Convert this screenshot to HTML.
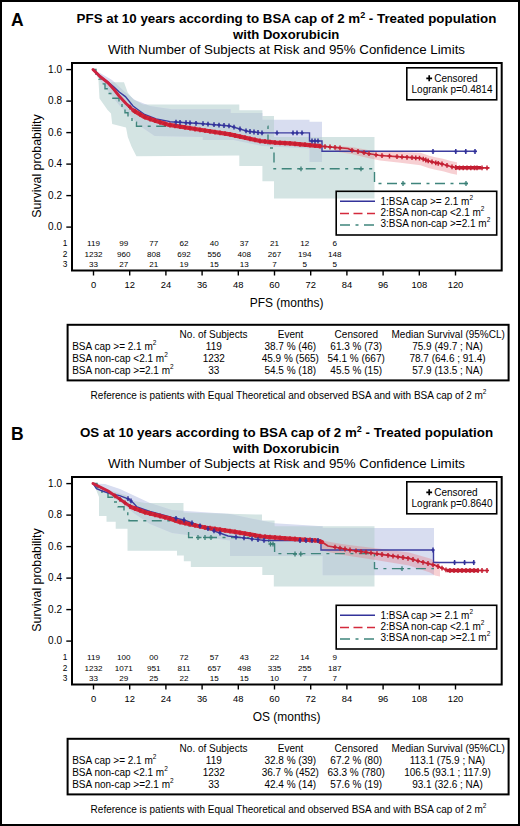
<!DOCTYPE html>
<html><head><meta charset="utf-8"><style>
html,body{margin:0;padding:0;background:#fff;}
body{width:520px;height:826px;overflow:hidden;position:relative;}
svg{position:absolute;left:0;top:0;font-family:"Liberation Sans", sans-serif;}
</style></head><body>
<svg width="520" height="826" viewBox="0 0 520 826">
<rect x="1" y="1" width="518" height="824" fill="#fff" stroke="#000" stroke-width="2"/>
<text x="11.00" y="26.20" font-size="17.5" text-anchor="start" font-weight="bold" fill="#000" >A</text>
<text x="286.5" y="23" font-size="13.35" font-weight="bold" text-anchor="middle">PFS at 10 years according to BSA cap of 2 m<tspan font-size="9" dy="-5">2</tspan><tspan dy="5"> - Treated population</tspan></text>
<text x="286.20" y="38.50" font-size="13.1" text-anchor="middle" font-weight="bold" fill="#000" >with Doxorubicin</text>
<text x="286.50" y="54.40" font-size="13.3" text-anchor="middle" font-weight="normal" fill="#000" >With Number of Subjects at Risk and 95% Confidence Limits</text>
<g clip-path="url(#clipA)">
<clipPath id="tbA"><polygon points="93.0,69.5 97.0,71.7 102.8,82.3 124.0,82.3 127.8,92.8 133.5,99.6 143.0,104.4 239.3,104.4 239.3,110.2 262.4,110.2 262.4,116.0 274.0,116.0 274.0,137.0 374.5,137.0 374.5,198.6 274.0,198.6 274.0,181.3 262.4,181.3 262.4,166.0 239.3,166.0 239.3,155.5 136.4,156.3 131.6,146.7 127.8,137.0 126.0,127.4 112.2,124.0 111.0,113.6 107.6,110.0 99.5,98.6 98.4,79.0 96.0,73.6 93.0,69.5"/></clipPath>
<polygon points="93.0,69.5 97.0,71.7 102.8,82.3 124.0,82.3 127.8,92.8 133.5,99.6 143.0,104.4 239.3,104.4 239.3,110.2 262.4,110.2 262.4,116.0 274.0,116.0 274.0,137.0 374.5,137.0 374.5,198.6 274.0,198.6 274.0,181.3 262.4,181.3 262.4,166.0 239.3,166.0 239.3,155.5 136.4,156.3 131.6,146.7 127.8,137.0 126.0,127.4 112.2,124.0 111.0,113.6 107.6,110.0 99.5,98.6 98.4,79.0 96.0,73.6 93.0,69.5" fill="#d4e4e3" />
<polygon points="93.0,69.5 100.0,73.0 112.0,80.0 125.0,92.0 135.0,100.0 150.0,106.0 172.0,109.2 230.7,109.2 230.7,113.0 262.4,113.0 262.4,119.8 309.5,119.8 309.5,121.7 322.0,121.7 322.0,162.0 309.5,162.0 309.5,148.6 262.0,146.0 233.5,140.0 202.8,140.0 202.8,137.0 154.7,136.1 140.0,126.0 130.0,116.0 120.0,106.0 110.0,94.0 100.0,80.0 93.0,69.5" fill="#d8ddf0" />
<polygon points="93.0,69.5 100.0,73.0 112.0,80.0 125.0,92.0 135.0,100.0 150.0,106.0 172.0,109.2 230.7,109.2 230.7,113.0 262.4,113.0 262.4,119.8 309.5,119.8 309.5,121.7 322.0,121.7 322.0,162.0 309.5,162.0 309.5,148.6 262.0,146.0 233.5,140.0 202.8,140.0 202.8,137.0 154.7,136.1 140.0,126.0 130.0,116.0 120.0,106.0 110.0,94.0 100.0,80.0 93.0,69.5" fill="#c4d4dc" clip-path="url(#tbA)" />
<polygon points="335.0,146.0 351.5,147.1 368.0,149.9 380.0,151.5 400.4,152.1 420.5,152.7 429.2,155.7 435.4,157.2 443.0,158.7 450.8,161.0 457.0,162.3 457.0,174.8 450.8,173.5 443.0,171.2 435.4,169.7 429.2,168.2 420.5,165.2 400.4,162.8 380.0,160.5 368.0,158.0 351.5,153.9 335.0,151.5" fill="#e8707a" fill-opacity="0.33" />
<clipPath id="tgA"><rect x="73" y="0" width="93" height="400"/><rect x="266" y="0" width="235" height="400"/></clipPath>
<polyline points="93.0,69.5 96.0,69.5 96.0,74.3 99.0,74.3 99.0,79.1 102.0,79.1 102.0,83.9 105.0,83.9 105.0,88.7 108.0,88.7 108.0,93.5 112.2,93.5 112.2,98.3 119.0,98.3 119.0,103.1 122.0,103.1 122.0,107.9 125.0,107.9 125.0,112.7 128.0,112.7 128.0,117.5 132.0,117.5 132.0,122.3 136.5,122.3 136.5,126.3 268.0,126.3 268.0,148.0 274.0,148.0 274.0,168.8 374.5,168.8 374.5,183.5 468.0,183.5 468.0,183.5" fill="none" stroke="#3f857c" stroke-width="1.4" stroke-dasharray="10,5.5,3,5.5" clip-path="url(#tgA)" />
<polyline points="93.0,69.5 102.0,77.5 108.0,82.0 114.0,87.0 119.2,92.0 125.4,96.6 133.0,106.0 137.0,109.0 144.6,114.5 156.1,119.0 167.7,121.1 170.0,121.7 200.0,123.5 230.0,126.0 247.3,131.2 261.0,132.9 309.5,132.9 309.5,141.0 322.0,141.0 322.0,151.3 477.0,151.3" fill="none" stroke="#3c3c9e" stroke-width="1.4" />
<polyline points="93.0,69.5 100.0,76.5 108.0,82.8 114.0,89.5 119.6,96.6 126.0,103.5 133.4,110.4 144.6,117.1 156.1,121.1 167.7,124.6 200.0,129.8 230.0,134.4 260.0,141.0 276.0,142.7 290.0,143.3 320.0,146.2 348.0,148.5 351.5,150.2 368.0,153.5 380.0,155.5 400.4,156.8 420.5,158.2 429.2,161.2 435.4,162.7 443.0,164.2 450.8,166.5 457.0,167.8 489.5,167.8" fill="none" stroke="#c52a3a" stroke-width="1.7" stroke-linejoin="round" />
<line x1="456" y1="167.8" x2="481" y2="167.8" stroke="#c0182e" stroke-width="3.6" />
<polyline points="133.4,110.4 144.6,117.1 156.1,121.1 167.7,124.6 200.0,129.8 230.0,134.4 260.0,141.0 276.0,142.7 290.0,143.3 320.0,146.2" fill="none" stroke="#d42236" stroke-width="4.2" stroke-linejoin="round" stroke-linecap="round" />
<polyline points="93.0,69.5 100.0,76.5 108.0,82.8 114.0,89.5 119.6,96.6 126.0,103.5 133.4,110.4" fill="none" stroke="#cc2240" stroke-width="3.0" stroke-linejoin="round" stroke-linecap="round" />
<path d="M128.0,107.2h4.0M130.0,104.8v4.8" stroke="#c41e32" stroke-width="1.5"/>
<path d="M133.0,111.4h4.0M135.0,109.0v4.8" stroke="#c41e32" stroke-width="1.5"/>
<path d="M138.0,114.3h4.0M140.0,111.9v4.8" stroke="#c41e32" stroke-width="1.5"/>
<path d="M143.0,117.2h4.0M145.0,114.8v4.8" stroke="#c41e32" stroke-width="1.5"/>
<path d="M148.0,119.0h4.0M150.0,116.6v4.8" stroke="#c41e32" stroke-width="1.5"/>
<path d="M153.0,120.7h4.0M155.0,118.3v4.8" stroke="#c41e32" stroke-width="1.5"/>
<path d="M158.0,122.3h4.0M160.0,119.9v4.8" stroke="#c41e32" stroke-width="1.5"/>
<path d="M163.0,123.8h4.0M165.0,121.4v4.8" stroke="#c41e32" stroke-width="1.5"/>
<path d="M168.0,125.0h4.0M170.0,122.6v4.8" stroke="#c41e32" stroke-width="1.5"/>
<path d="M173.0,125.8h4.0M175.0,123.4v4.8" stroke="#c41e32" stroke-width="1.5"/>
<path d="M178.0,126.6h4.0M180.0,124.2v4.8" stroke="#c41e32" stroke-width="1.5"/>
<path d="M183.0,127.4h4.0M185.0,125.0v4.8" stroke="#c41e32" stroke-width="1.5"/>
<path d="M188.0,128.2h4.0M190.0,125.8v4.8" stroke="#c41e32" stroke-width="1.5"/>
<path d="M193.0,129.0h4.0M195.0,126.6v4.8" stroke="#c41e32" stroke-width="1.5"/>
<path d="M198.0,129.8h4.0M200.0,127.4v4.8" stroke="#c41e32" stroke-width="1.5"/>
<path d="M203.0,130.6h4.0M205.0,128.2v4.8" stroke="#c41e32" stroke-width="1.5"/>
<path d="M208.0,131.3h4.0M210.0,128.9v4.8" stroke="#c41e32" stroke-width="1.5"/>
<path d="M213.0,132.1h4.0M215.0,129.7v4.8" stroke="#c41e32" stroke-width="1.5"/>
<path d="M218.0,132.9h4.0M220.0,130.5v4.8" stroke="#c41e32" stroke-width="1.5"/>
<path d="M223.0,133.6h4.0M225.0,131.2v4.8" stroke="#c41e32" stroke-width="1.5"/>
<path d="M228.0,134.4h4.0M230.0,132.0v4.8" stroke="#c41e32" stroke-width="1.5"/>
<path d="M233.0,135.5h4.0M235.0,133.1v4.8" stroke="#c41e32" stroke-width="1.5"/>
<path d="M238.0,136.6h4.0M240.0,134.2v4.8" stroke="#c41e32" stroke-width="1.5"/>
<path d="M243.0,137.7h4.0M245.0,135.3v4.8" stroke="#c41e32" stroke-width="1.5"/>
<path d="M248.0,138.8h4.0M250.0,136.4v4.8" stroke="#c41e32" stroke-width="1.5"/>
<path d="M253.0,139.9h4.0M255.0,137.5v4.8" stroke="#c41e32" stroke-width="1.5"/>
<path d="M258.0,141.0h4.0M260.0,138.6v4.8" stroke="#c41e32" stroke-width="1.5"/>
<path d="M263.0,141.5h4.0M265.0,139.1v4.8" stroke="#c41e32" stroke-width="1.5"/>
<path d="M268.0,142.1h4.0M270.0,139.7v4.8" stroke="#c41e32" stroke-width="1.5"/>
<path d="M273.0,142.6h4.0M275.0,140.2v4.8" stroke="#c41e32" stroke-width="1.5"/>
<path d="M278.0,142.9h4.0M280.0,140.5v4.8" stroke="#c41e32" stroke-width="1.5"/>
<path d="M283.0,143.1h4.0M285.0,140.7v4.8" stroke="#c41e32" stroke-width="1.5"/>
<path d="M288.0,143.3h4.0M290.0,140.9v4.8" stroke="#c41e32" stroke-width="1.5"/>
<path d="M293.0,143.8h4.0M295.0,141.4v4.8" stroke="#c41e32" stroke-width="1.5"/>
<path d="M298.0,144.3h4.0M300.0,141.9v4.8" stroke="#c41e32" stroke-width="1.5"/>
<path d="M303.0,144.8h4.0M305.0,142.3v4.8" stroke="#c41e32" stroke-width="1.5"/>
<path d="M308.0,145.2h4.0M310.0,142.8v4.8" stroke="#c41e32" stroke-width="1.5"/>
<path d="M313.0,145.7h4.0M315.0,143.3v4.8" stroke="#c41e32" stroke-width="1.5"/>
<path d="M318.0,146.2h4.0M320.0,143.8v4.8" stroke="#c41e32" stroke-width="1.5"/>
<path d="M323.0,146.6h4.0M325.0,144.2v4.8" stroke="#c41e32" stroke-width="1.5"/>
<path d="M328.0,147.0h4.0M330.0,144.6v4.8" stroke="#c41e32" stroke-width="1.5"/>
<path d="M333.0,147.4h4.0M335.0,145.0v4.8" stroke="#c41e32" stroke-width="1.5"/>
<path d="M338.0,147.8h4.0M340.0,145.4v4.8" stroke="#c41e32" stroke-width="1.5"/>
<path d="M350.0,150.3h4.0M352.0,147.9v4.8" stroke="#c41e32" stroke-width="1.5"/>
<path d="M356.0,151.5h4.0M358.0,149.1v4.8" stroke="#c41e32" stroke-width="1.5"/>
<path d="M362.0,152.7h4.0M364.0,150.3v4.8" stroke="#c41e32" stroke-width="1.5"/>
<path d="M367.0,153.7h4.0M369.0,151.3v4.8" stroke="#c41e32" stroke-width="1.5"/>
<path d="M374.0,154.8h4.0M376.0,152.4v4.8" stroke="#c41e32" stroke-width="1.5"/>
<path d="M380.0,155.6h4.0M382.0,153.2v4.8" stroke="#c41e32" stroke-width="1.5"/>
<path d="M387.5,156.1h4.0M389.5,153.7v4.8" stroke="#c41e32" stroke-width="1.5"/>
<path d="M395.0,156.6h4.0M397.0,154.2v4.8" stroke="#c41e32" stroke-width="1.5"/>
<path d="M400.0,156.9h4.0M402.0,154.5v4.8" stroke="#c41e32" stroke-width="1.5"/>
<path d="M405.0,157.3h4.0M407.0,154.9v4.8" stroke="#c41e32" stroke-width="1.5"/>
<path d="M410.0,157.6h4.0M412.0,155.2v4.8" stroke="#c41e32" stroke-width="1.5"/>
<path d="M413.8,157.9h4.0M415.8,155.5v4.8" stroke="#c41e32" stroke-width="1.5"/>
<path d="M417.5,158.1h4.0M419.5,155.7v4.8" stroke="#c41e32" stroke-width="1.5"/>
<path d="M421.2,159.1h4.0M423.2,156.7v4.8" stroke="#c41e32" stroke-width="1.5"/>
<path d="M423.8,160.0h4.0M425.8,157.6v4.8" stroke="#c41e32" stroke-width="1.5"/>
<path d="M426.2,160.9h4.0M428.2,158.5v4.8" stroke="#c41e32" stroke-width="1.5"/>
<path d="M430.0,161.9h4.0M432.0,159.5v4.8" stroke="#c41e32" stroke-width="1.5"/>
<path d="M433.8,162.8h4.0M435.8,160.4v4.8" stroke="#c41e32" stroke-width="1.5"/>
<path d="M436.2,163.3h4.0M438.2,160.9v4.8" stroke="#c41e32" stroke-width="1.5"/>
<path d="M440.0,164.0h4.0M442.0,161.6v4.8" stroke="#c41e32" stroke-width="1.5"/>
<path d="M445.0,165.4h4.0M447.0,163.0v4.8" stroke="#c41e32" stroke-width="1.5"/>
<path d="M450.0,166.8h4.0M452.0,164.4v4.8" stroke="#c41e32" stroke-width="1.5"/>
<path d="M453.8,167.5h4.0M455.8,165.1v4.8" stroke="#c41e32" stroke-width="1.5"/>
<path d="M457.5,167.8h4.0M459.5,165.4v4.8" stroke="#c41e32" stroke-width="1.5"/>
<path d="M461.2,167.8h4.0M463.2,165.4v4.8" stroke="#c41e32" stroke-width="1.5"/>
<path d="M465.0,167.8h4.0M467.0,165.4v4.8" stroke="#c41e32" stroke-width="1.5"/>
<path d="M468.8,167.8h4.0M470.8,165.4v4.8" stroke="#c41e32" stroke-width="1.5"/>
<path d="M472.5,167.8h4.0M474.5,165.4v4.8" stroke="#c41e32" stroke-width="1.5"/>
<path d="M475.0,167.8h4.0M477.0,165.4v4.8" stroke="#c41e32" stroke-width="1.5"/>
<path d="M480.0,167.8h4.0M482.0,165.4v4.8" stroke="#c41e32" stroke-width="1.5"/>
<path d="M485.0,167.8h4.0M487.0,165.4v4.8" stroke="#c41e32" stroke-width="1.5"/>
<path d="M174.4,122.1h3.2M176.0,119.7v4.8" stroke="#30309a" stroke-width="1.5"/>
<path d="M178.4,122.3h3.2M180.0,119.9v4.8" stroke="#30309a" stroke-width="1.5"/>
<path d="M184.4,122.7h3.2M186.0,120.3v4.8" stroke="#30309a" stroke-width="1.5"/>
<path d="M188.4,122.9h3.2M190.0,120.5v4.8" stroke="#30309a" stroke-width="1.5"/>
<path d="M194.4,123.3h3.2M196.0,120.9v4.8" stroke="#30309a" stroke-width="1.5"/>
<path d="M201.4,123.8h3.2M203.0,121.3v4.8" stroke="#30309a" stroke-width="1.5"/>
<path d="M206.4,124.2h3.2M208.0,121.8v4.8" stroke="#30309a" stroke-width="1.5"/>
<path d="M212.4,124.7h3.2M214.0,122.3v4.8" stroke="#30309a" stroke-width="1.5"/>
<path d="M217.4,125.1h3.2M219.0,122.7v4.8" stroke="#30309a" stroke-width="1.5"/>
<path d="M222.4,125.5h3.2M224.0,123.1v4.8" stroke="#30309a" stroke-width="1.5"/>
<path d="M227.4,125.9h3.2M229.0,123.5v4.8" stroke="#30309a" stroke-width="1.5"/>
<path d="M232.4,127.2h3.2M234.0,124.8v4.8" stroke="#30309a" stroke-width="1.5"/>
<path d="M238.4,129.0h3.2M240.0,126.6v4.8" stroke="#30309a" stroke-width="1.5"/>
<path d="M244.4,130.8h3.2M246.0,128.4v4.8" stroke="#30309a" stroke-width="1.5"/>
<path d="M248.4,131.5h3.2M250.0,129.1v4.8" stroke="#30309a" stroke-width="1.5"/>
<path d="M252.4,132.0h3.2M254.0,129.6v4.8" stroke="#30309a" stroke-width="1.5"/>
<path d="M256.4,132.5h3.2M258.0,130.1v4.8" stroke="#30309a" stroke-width="1.5"/>
<path d="M260.4,132.9h3.2M262.0,130.5v4.8" stroke="#30309a" stroke-width="1.5"/>
<path d="M275.4,132.9h3.2M277.0,130.5v4.8" stroke="#30309a" stroke-width="1.5"/>
<path d="M291.4,132.9h3.2M293.0,130.5v4.8" stroke="#30309a" stroke-width="1.5"/>
<path d="M295.4,132.9h3.2M297.0,130.5v4.8" stroke="#30309a" stroke-width="1.5"/>
<path d="M300.4,132.9h3.2M302.0,130.5v4.8" stroke="#30309a" stroke-width="1.5"/>
<path d="M310.4,141.0h3.2M312.0,138.6v4.8" stroke="#30309a" stroke-width="1.5"/>
<path d="M313.4,141.0h3.2M315.0,138.6v4.8" stroke="#30309a" stroke-width="1.5"/>
<path d="M316.4,141.0h3.2M318.0,138.6v4.8" stroke="#30309a" stroke-width="1.5"/>
<path d="M431.4,151.5h3.2M433.0,149.1v4.8" stroke="#30309a" stroke-width="1.5"/>
<path d="M454.1,151.5h3.2M455.8,149.1v4.8" stroke="#30309a" stroke-width="1.5"/>
<path d="M464.1,151.5h3.2M465.8,149.1v4.8" stroke="#30309a" stroke-width="1.5"/>
<path d="M473.4,151.5h3.2M475.0,149.1v4.8" stroke="#30309a" stroke-width="1.5"/>
<path d="M299.0,168.8h4.0M301.0,166.4v4.8" stroke="#3a7f76" stroke-width="1.3"/>
<path d="M359.0,168.8h4.0M361.0,166.4v4.8" stroke="#3a7f76" stroke-width="1.3"/>
<path d="M401.0,183.5h4.0M403.0,181.1v4.8" stroke="#3a7f76" stroke-width="1.3"/>
<path d="M464.0,183.5h4.0M466.0,181.1v4.8" stroke="#3a7f76" stroke-width="1.3"/>
</g>
<rect x="72" y="63" width="429.7" height="207.5" fill="none" stroke="#000" stroke-width="2"/>
<line x1="66.3" y1="227.1" x2="71" y2="227.1" stroke="#000" stroke-width="1.4"/>
<text x="62.00" y="230.10" font-size="10.0" text-anchor="end" font-weight="normal" fill="#000" >0.0</text>
<line x1="66.3" y1="195.6" x2="71" y2="195.6" stroke="#000" stroke-width="1.4"/>
<text x="62.00" y="198.60" font-size="10.0" text-anchor="end" font-weight="normal" fill="#000" >0.2</text>
<line x1="66.3" y1="164.1" x2="71" y2="164.1" stroke="#000" stroke-width="1.4"/>
<text x="62.00" y="167.10" font-size="10.0" text-anchor="end" font-weight="normal" fill="#000" >0.4</text>
<line x1="66.3" y1="132.6" x2="71" y2="132.6" stroke="#000" stroke-width="1.4"/>
<text x="62.00" y="135.60" font-size="10.0" text-anchor="end" font-weight="normal" fill="#000" >0.6</text>
<line x1="66.3" y1="101.1" x2="71" y2="101.1" stroke="#000" stroke-width="1.4"/>
<text x="62.00" y="104.10" font-size="10.0" text-anchor="end" font-weight="normal" fill="#000" >0.8</text>
<line x1="66.3" y1="69.6" x2="71" y2="69.6" stroke="#000" stroke-width="1.4"/>
<text x="62.00" y="72.60" font-size="10.0" text-anchor="end" font-weight="normal" fill="#000" >1.0</text>
<text transform="translate(40.8,166) rotate(-90) scale(0.92,1)" font-size="13.4" text-anchor="middle">Survival probability</text>
<text x="65.00" y="245.80" font-size="8.3" text-anchor="middle" font-weight="normal" fill="#000" >1</text>
<text x="93.50" y="245.80" font-size="8.1" text-anchor="middle" font-weight="normal" fill="#000" >119</text>
<text x="123.67" y="245.80" font-size="8.1" text-anchor="middle" font-weight="normal" fill="#000" >99</text>
<text x="153.83" y="245.80" font-size="8.1" text-anchor="middle" font-weight="normal" fill="#000" >77</text>
<text x="184.00" y="245.80" font-size="8.1" text-anchor="middle" font-weight="normal" fill="#000" >62</text>
<text x="214.17" y="245.80" font-size="8.1" text-anchor="middle" font-weight="normal" fill="#000" >40</text>
<text x="244.34" y="245.80" font-size="8.1" text-anchor="middle" font-weight="normal" fill="#000" >37</text>
<text x="274.50" y="245.80" font-size="8.1" text-anchor="middle" font-weight="normal" fill="#000" >21</text>
<text x="304.67" y="245.80" font-size="8.1" text-anchor="middle" font-weight="normal" fill="#000" >12</text>
<text x="334.84" y="245.80" font-size="8.1" text-anchor="middle" font-weight="normal" fill="#000" >6</text>
<text x="65.00" y="256.50" font-size="8.3" text-anchor="middle" font-weight="normal" fill="#000" >2</text>
<text x="93.50" y="256.50" font-size="8.1" text-anchor="middle" font-weight="normal" fill="#000" >1232</text>
<text x="123.67" y="256.50" font-size="8.1" text-anchor="middle" font-weight="normal" fill="#000" >960</text>
<text x="153.83" y="256.50" font-size="8.1" text-anchor="middle" font-weight="normal" fill="#000" >808</text>
<text x="184.00" y="256.50" font-size="8.1" text-anchor="middle" font-weight="normal" fill="#000" >692</text>
<text x="214.17" y="256.50" font-size="8.1" text-anchor="middle" font-weight="normal" fill="#000" >556</text>
<text x="244.34" y="256.50" font-size="8.1" text-anchor="middle" font-weight="normal" fill="#000" >408</text>
<text x="274.50" y="256.50" font-size="8.1" text-anchor="middle" font-weight="normal" fill="#000" >267</text>
<text x="304.67" y="256.50" font-size="8.1" text-anchor="middle" font-weight="normal" fill="#000" >194</text>
<text x="334.84" y="256.50" font-size="8.1" text-anchor="middle" font-weight="normal" fill="#000" >148</text>
<text x="65.00" y="267.00" font-size="8.3" text-anchor="middle" font-weight="normal" fill="#000" >3</text>
<text x="93.50" y="267.00" font-size="8.1" text-anchor="middle" font-weight="normal" fill="#000" >33</text>
<text x="123.67" y="267.00" font-size="8.1" text-anchor="middle" font-weight="normal" fill="#000" >27</text>
<text x="153.83" y="267.00" font-size="8.1" text-anchor="middle" font-weight="normal" fill="#000" >21</text>
<text x="184.00" y="267.00" font-size="8.1" text-anchor="middle" font-weight="normal" fill="#000" >19</text>
<text x="214.17" y="267.00" font-size="8.1" text-anchor="middle" font-weight="normal" fill="#000" >15</text>
<text x="244.34" y="267.00" font-size="8.1" text-anchor="middle" font-weight="normal" fill="#000" >13</text>
<text x="274.50" y="267.00" font-size="8.1" text-anchor="middle" font-weight="normal" fill="#000" >7</text>
<text x="304.67" y="267.00" font-size="8.1" text-anchor="middle" font-weight="normal" fill="#000" >5</text>
<text x="334.84" y="267.00" font-size="8.1" text-anchor="middle" font-weight="normal" fill="#000" >5</text>
<line x1="93.5" y1="271" x2="93.5" y2="275.5" stroke="#000" stroke-width="1.4"/>
<text x="93.50" y="288.20" font-size="9.4" text-anchor="middle" font-weight="normal" fill="#000" >0</text>
<line x1="129.7" y1="271" x2="129.7" y2="275.5" stroke="#000" stroke-width="1.4"/>
<text x="129.70" y="288.20" font-size="9.4" text-anchor="middle" font-weight="normal" fill="#000" >12</text>
<line x1="165.9" y1="271" x2="165.9" y2="275.5" stroke="#000" stroke-width="1.4"/>
<text x="165.90" y="288.20" font-size="9.4" text-anchor="middle" font-weight="normal" fill="#000" >24</text>
<line x1="202.1" y1="271" x2="202.1" y2="275.5" stroke="#000" stroke-width="1.4"/>
<text x="202.10" y="288.20" font-size="9.4" text-anchor="middle" font-weight="normal" fill="#000" >36</text>
<line x1="238.3" y1="271" x2="238.3" y2="275.5" stroke="#000" stroke-width="1.4"/>
<text x="238.30" y="288.20" font-size="9.4" text-anchor="middle" font-weight="normal" fill="#000" >48</text>
<line x1="274.5" y1="271" x2="274.5" y2="275.5" stroke="#000" stroke-width="1.4"/>
<text x="274.50" y="288.20" font-size="9.4" text-anchor="middle" font-weight="normal" fill="#000" >60</text>
<line x1="310.7" y1="271" x2="310.7" y2="275.5" stroke="#000" stroke-width="1.4"/>
<text x="310.70" y="288.20" font-size="9.4" text-anchor="middle" font-weight="normal" fill="#000" >72</text>
<line x1="346.9" y1="271" x2="346.9" y2="275.5" stroke="#000" stroke-width="1.4"/>
<text x="346.90" y="288.20" font-size="9.4" text-anchor="middle" font-weight="normal" fill="#000" >84</text>
<line x1="383.1" y1="271" x2="383.1" y2="275.5" stroke="#000" stroke-width="1.4"/>
<text x="383.10" y="288.20" font-size="9.4" text-anchor="middle" font-weight="normal" fill="#000" >96</text>
<line x1="419.3" y1="271" x2="419.3" y2="275.5" stroke="#000" stroke-width="1.4"/>
<text x="419.30" y="288.20" font-size="9.4" text-anchor="middle" font-weight="normal" fill="#000" >108</text>
<line x1="455.5" y1="271" x2="455.5" y2="275.5" stroke="#000" stroke-width="1.4"/>
<text x="455.50" y="288.20" font-size="9.4" text-anchor="middle" font-weight="normal" fill="#000" >120</text>
<text transform="translate(286.6,307.3) scale(0.9,1)" font-size="13.3" text-anchor="middle">PFS (months)</text>
<rect x="406.8" y="67.8" width="89.9" height="32" fill="#fff" stroke="#000" stroke-width="1.6"/>
<path d="M426.3,78.3h5.8M429.2,75.3v6" stroke="#000" stroke-width="1.7"/>
<text x="434.20" y="81.80" font-size="10" text-anchor="start" font-weight="normal" fill="#000" >Censored</text>
<text x="452.00" y="93.00" font-size="10" text-anchor="middle" font-weight="normal" fill="#000" >Logrank p=0.4814</text>
<rect x="336.2" y="191.3" width="160.5" height="43.7" fill="none" stroke="#000" stroke-width="1.6"/>
<line x1="340" y1="201.3" x2="375" y2="201.3" stroke="#33339a" stroke-width="1.4"/>
<line x1="340" y1="213.5" x2="375" y2="213.5" stroke="#d42a3c" stroke-width="1.6" stroke-dasharray="9,4.5"/>
<line x1="340" y1="225" x2="375" y2="225" stroke="#3f857c" stroke-width="1.4" stroke-dasharray="10,5.5,3,5.5"/>
<text x="380.5" y="204.50" font-size="10">1:BSA cap &gt;= 2.1 m<tspan font-size="6.5" dy="-4.6">2</tspan></text>
<text x="380.5" y="215.75" font-size="10">2:BSA non-cap &lt;2.1 m<tspan font-size="6.5" dy="-4.6">2</tspan></text>
<text x="380.5" y="227.00" font-size="10">3:BSA non-cap &gt;=2.1 m<tspan font-size="6.5" dy="-4.6">2</tspan></text>
<rect x="67.6" y="324.8" width="441" height="55.6" fill="none" stroke="#000" stroke-width="2"/>
<text x="213.50" y="337.80" font-size="10" text-anchor="middle" font-weight="normal" fill="#000" >No. of Subjects</text>
<text x="290.60" y="337.80" font-size="10" text-anchor="middle" font-weight="normal" fill="#000" >Event</text>
<text x="356.30" y="337.80" font-size="10" text-anchor="middle" font-weight="normal" fill="#000" >Censored</text>
<text x="448.20" y="337.80" font-size="10" text-anchor="middle" font-weight="normal" fill="#000" >Median Survival (95%CL)</text>
<text x="72.2" y="350.00" font-size="10">BSA cap &gt;= 2.1 m<tspan font-size="6.5" dy="-4.6">2</tspan></text>
<text x="213.80" y="350.00" font-size="10" text-anchor="middle" font-weight="normal" fill="#000" >119</text>
<text x="290.30" y="350.00" font-size="10" text-anchor="middle" font-weight="normal" fill="#000" >38.7 % (46)</text>
<text x="356.20" y="350.00" font-size="10" text-anchor="middle" font-weight="normal" fill="#000" >61.3 % (73)</text>
<text x="447.50" y="350.00" font-size="10" text-anchor="middle" font-weight="normal" fill="#000" >75.9 (49.7 ; NA)</text>
<text x="72.2" y="362.00" font-size="10">BSA non-cap &lt;2.1 m<tspan font-size="6.5" dy="-4.6">2</tspan></text>
<text x="213.80" y="362.00" font-size="10" text-anchor="middle" font-weight="normal" fill="#000" >1232</text>
<text x="290.30" y="362.00" font-size="10" text-anchor="middle" font-weight="normal" fill="#000" >45.9 % (565)</text>
<text x="356.20" y="362.00" font-size="10" text-anchor="middle" font-weight="normal" fill="#000" >54.1 % (667)</text>
<text x="447.50" y="362.00" font-size="10" text-anchor="middle" font-weight="normal" fill="#000" >78.7 (64.6 ; 91.4)</text>
<text x="72.2" y="373.60" font-size="10">BSA non-cap &gt;=2.1 m<tspan font-size="6.5" dy="-4.6">2</tspan></text>
<text x="213.80" y="373.60" font-size="10" text-anchor="middle" font-weight="normal" fill="#000" >33</text>
<text x="290.30" y="373.60" font-size="10" text-anchor="middle" font-weight="normal" fill="#000" >54.5 % (18)</text>
<text x="356.20" y="373.60" font-size="10" text-anchor="middle" font-weight="normal" fill="#000" >45.5 % (15)</text>
<text x="447.50" y="373.60" font-size="10" text-anchor="middle" font-weight="normal" fill="#000" >57.9 (13.5 ; NA)</text>
<text x="90.6" y="399" font-size="10">Reference is patients with Equal Theoretical and observed BSA and with BSA cap of 2 m<tspan font-size="6.5" dy="-4.6">2</tspan></text>
<clipPath id="clipA"><rect x="73" y="64" width="427.7" height="205.5"/></clipPath>
<text x="11.00" y="440.20" font-size="17.5" text-anchor="start" font-weight="bold" fill="#000" >B</text>
<text x="286.5" y="437" font-size="13.35" font-weight="bold" text-anchor="middle">OS at 10 years according to BSA cap of 2 m<tspan font-size="9" dy="-5">2</tspan><tspan dy="5"> - Treated population</tspan></text>
<text x="286.20" y="452.50" font-size="13.1" text-anchor="middle" font-weight="bold" fill="#000" >with Doxorubicin</text>
<text x="286.50" y="468.40" font-size="13.3" text-anchor="middle" font-weight="normal" fill="#000" >With Number of Subjects at Risk and 95% Confidence Limits</text>
<g clip-path="url(#clipB)">
<clipPath id="tbB"><polygon points="93.0,483.5 96.0,483.0 111.0,490.7 126.0,495.3 134.0,501.0 145.0,503.0 183.5,503.0 183.5,512.6 262.0,514.6 262.0,520.4 274.6,520.4 274.6,526.2 374.5,526.2 374.5,586.5 273.8,586.5 273.8,575.0 262.3,575.0 262.3,567.0 190.8,567.0 190.8,561.2 183.8,561.2 183.8,555.4 177.0,555.4 177.0,550.8 127.5,550.7 127.5,528.7 115.7,528.7 115.7,521.8 106.5,521.8 106.5,516.0 99.0,516.0 99.0,497.0 96.0,489.5 93.0,483.5"/></clipPath>
<polygon points="93.0,483.5 96.0,483.0 111.0,490.7 126.0,495.3 134.0,501.0 145.0,503.0 183.5,503.0 183.5,512.6 262.0,514.6 262.0,520.4 274.6,520.4 274.6,526.2 374.5,526.2 374.5,586.5 273.8,586.5 273.8,575.0 262.3,575.0 262.3,567.0 190.8,567.0 190.8,561.2 183.8,561.2 183.8,555.4 177.0,555.4 177.0,550.8 127.5,550.7 127.5,528.7 115.7,528.7 115.7,521.8 106.5,521.8 106.5,516.0 99.0,516.0 99.0,497.0 96.0,489.5 93.0,483.5" fill="#d4e4e3" />
<polygon points="93.0,483.5 105.0,484.0 120.0,489.0 135.0,496.0 150.0,503.0 172.0,510.0 230.0,514.0 274.6,523.3 322.7,526.2 322.7,528.0 434.0,528.0 434.0,575.2 322.7,575.2 322.7,556.0 230.0,556.0 230.0,540.4 172.0,533.0 150.0,524.0 135.0,514.0 120.0,502.0 105.0,492.0 93.0,483.5" fill="#d8ddf0" />
<polygon points="93.0,483.5 105.0,484.0 120.0,489.0 135.0,496.0 150.0,503.0 172.0,510.0 230.0,514.0 274.6,523.3 322.7,526.2 322.7,528.0 434.0,528.0 434.0,575.2 322.7,575.2 322.7,556.0 230.0,556.0 230.0,540.4 172.0,533.0 150.0,524.0 135.0,514.0 120.0,502.0 105.0,492.0 93.0,483.5" fill="#c4d4dc" clip-path="url(#tbB)" />
<polygon points="322.0,540.5 340.0,543.7 352.8,545.5 374.0,547.9 409.0,552.4 430.0,558.4 435.0,561.3 440.0,562.0 440.0,576.4 435.0,575.5 430.0,572.4 409.0,565.6 374.0,559.8 352.8,556.6 340.0,554.4 322.0,550.5" fill="#e8707a" fill-opacity="0.33" />
<polyline points="93.0,483.5 97.0,483.5 97.0,487.6 102.0,487.6 102.0,492.4 108.0,492.4 108.0,497.2 113.0,497.2 113.0,502.0 118.0,502.0 118.0,506.8 124.0,506.8 124.0,511.5 127.8,511.5 127.8,516.0 129.0,516.0 129.0,520.7 188.6,520.7 188.6,537.5 268.7,537.5 268.7,544.0 274.6,544.0 274.6,553.6 374.5,553.6 374.5,568.6 434.0,568.6 434.0,568.6" fill="none" stroke="#3f857c" stroke-width="1.4" stroke-dasharray="10,5.5,3,5.5" />
<polyline points="93.0,483.5 96.5,488.7 102.3,491.0 110.0,493.5 119.6,495.6 128.8,499.0 133.4,503.0 137.0,507.0 150.0,511.5 172.0,517.5 184.0,520.0 228.0,536.0 265.0,540.5 321.0,540.5 321.0,550.0 433.5,550.0 433.5,562.5 474.5,562.5" fill="none" stroke="#3c3c9e" stroke-width="1.4" />
<polyline points="93.0,483.5 100.0,487.0 108.0,491.0 119.6,499.0 131.0,507.0 145.0,512.3 168.0,518.0 179.6,522.0 205.0,527.5 235.0,531.9 262.0,536.5 292.0,538.8 316.5,540.5 322.0,542.0 328.0,546.0 345.0,549.0 352.8,550.5 374.0,553.3 409.0,558.4 420.0,561.5 435.4,565.4 447.7,570.5 488.0,570.5" fill="none" stroke="#c52a3a" stroke-width="1.7" stroke-linejoin="round" />
<line x1="447" y1="570.5" x2="479" y2="570.5" stroke="#c0182e" stroke-width="3.6" />
<polyline points="131.0,507.0 145.0,512.3 168.0,518.0 179.6,522.0 205.0,527.5 235.0,531.9 262.0,536.5 292.0,538.8 316.5,540.5 322.0,542.0" fill="none" stroke="#d42236" stroke-width="4.2" stroke-linejoin="round" stroke-linecap="round" />
<polyline points="93.0,483.5 100.0,487.0 108.0,491.0 119.6,499.0 131.0,507.0" fill="none" stroke="#cc2240" stroke-width="3.0" stroke-linejoin="round" stroke-linecap="round" />
<path d="M113.0,495.8h4.0M115.0,493.4v4.8" stroke="#c41e32" stroke-width="1.5"/>
<path d="M118.0,499.3h4.0M120.0,496.9v4.8" stroke="#c41e32" stroke-width="1.5"/>
<path d="M123.0,502.8h4.0M125.0,500.4v4.8" stroke="#c41e32" stroke-width="1.5"/>
<path d="M128.0,506.3h4.0M130.0,503.9v4.8" stroke="#c41e32" stroke-width="1.5"/>
<path d="M133.0,508.5h4.0M135.0,506.1v4.8" stroke="#c41e32" stroke-width="1.5"/>
<path d="M138.0,510.4h4.0M140.0,508.0v4.8" stroke="#c41e32" stroke-width="1.5"/>
<path d="M143.0,512.3h4.0M145.0,509.9v4.8" stroke="#c41e32" stroke-width="1.5"/>
<path d="M148.0,513.5h4.0M150.0,511.1v4.8" stroke="#c41e32" stroke-width="1.5"/>
<path d="M153.0,514.8h4.0M155.0,512.4v4.8" stroke="#c41e32" stroke-width="1.5"/>
<path d="M158.0,516.0h4.0M160.0,513.6v4.8" stroke="#c41e32" stroke-width="1.5"/>
<path d="M163.0,517.3h4.0M165.0,514.9v4.8" stroke="#c41e32" stroke-width="1.5"/>
<path d="M168.0,518.7h4.0M170.0,516.3v4.8" stroke="#c41e32" stroke-width="1.5"/>
<path d="M173.0,520.4h4.0M175.0,518.0v4.8" stroke="#c41e32" stroke-width="1.5"/>
<path d="M178.0,522.1h4.0M180.0,519.7v4.8" stroke="#c41e32" stroke-width="1.5"/>
<path d="M183.0,523.2h4.0M185.0,520.8v4.8" stroke="#c41e32" stroke-width="1.5"/>
<path d="M188.0,524.3h4.0M190.0,521.9v4.8" stroke="#c41e32" stroke-width="1.5"/>
<path d="M193.0,525.3h4.0M195.0,522.9v4.8" stroke="#c41e32" stroke-width="1.5"/>
<path d="M198.0,526.4h4.0M200.0,524.0v4.8" stroke="#c41e32" stroke-width="1.5"/>
<path d="M203.0,527.5h4.0M205.0,525.1v4.8" stroke="#c41e32" stroke-width="1.5"/>
<path d="M208.0,528.2h4.0M210.0,525.8v4.8" stroke="#c41e32" stroke-width="1.5"/>
<path d="M213.0,529.0h4.0M215.0,526.6v4.8" stroke="#c41e32" stroke-width="1.5"/>
<path d="M218.0,529.7h4.0M220.0,527.3v4.8" stroke="#c41e32" stroke-width="1.5"/>
<path d="M223.0,530.4h4.0M225.0,528.0v4.8" stroke="#c41e32" stroke-width="1.5"/>
<path d="M228.0,531.2h4.0M230.0,528.8v4.8" stroke="#c41e32" stroke-width="1.5"/>
<path d="M233.0,531.9h4.0M235.0,529.5v4.8" stroke="#c41e32" stroke-width="1.5"/>
<path d="M238.0,532.8h4.0M240.0,530.4v4.8" stroke="#c41e32" stroke-width="1.5"/>
<path d="M243.0,533.6h4.0M245.0,531.2v4.8" stroke="#c41e32" stroke-width="1.5"/>
<path d="M248.0,534.5h4.0M250.0,532.1v4.8" stroke="#c41e32" stroke-width="1.5"/>
<path d="M253.0,535.3h4.0M255.0,532.9v4.8" stroke="#c41e32" stroke-width="1.5"/>
<path d="M258.0,536.2h4.0M260.0,533.8v4.8" stroke="#c41e32" stroke-width="1.5"/>
<path d="M263.0,536.7h4.0M265.0,534.3v4.8" stroke="#c41e32" stroke-width="1.5"/>
<path d="M268.0,537.1h4.0M270.0,534.7v4.8" stroke="#c41e32" stroke-width="1.5"/>
<path d="M273.0,537.5h4.0M275.0,535.1v4.8" stroke="#c41e32" stroke-width="1.5"/>
<path d="M278.0,537.9h4.0M280.0,535.5v4.8" stroke="#c41e32" stroke-width="1.5"/>
<path d="M283.0,538.3h4.0M285.0,535.9v4.8" stroke="#c41e32" stroke-width="1.5"/>
<path d="M288.0,538.6h4.0M290.0,536.2v4.8" stroke="#c41e32" stroke-width="1.5"/>
<path d="M293.0,539.0h4.0M295.0,536.6v4.8" stroke="#c41e32" stroke-width="1.5"/>
<path d="M298.0,539.4h4.0M300.0,537.0v4.8" stroke="#c41e32" stroke-width="1.5"/>
<path d="M303.0,539.7h4.0M305.0,537.3v4.8" stroke="#c41e32" stroke-width="1.5"/>
<path d="M308.0,540.0h4.0M310.0,537.6v4.8" stroke="#c41e32" stroke-width="1.5"/>
<path d="M313.0,540.4h4.0M315.0,538.0v4.8" stroke="#c41e32" stroke-width="1.5"/>
<path d="M318.0,541.5h4.0M320.0,539.1v4.8" stroke="#c41e32" stroke-width="1.5"/>
<path d="M333.0,547.2h4.0M335.0,544.8v4.8" stroke="#c41e32" stroke-width="1.5"/>
<path d="M338.0,548.1h4.0M340.0,545.7v4.8" stroke="#c41e32" stroke-width="1.5"/>
<path d="M343.0,549.0h4.0M345.0,546.6v4.8" stroke="#c41e32" stroke-width="1.5"/>
<path d="M348.0,550.0h4.0M350.0,547.6v4.8" stroke="#c41e32" stroke-width="1.5"/>
<path d="M354.0,550.9h4.0M356.0,548.5v4.8" stroke="#c41e32" stroke-width="1.5"/>
<path d="M359.0,551.6h4.0M361.0,549.2v4.8" stroke="#c41e32" stroke-width="1.5"/>
<path d="M364.0,552.2h4.0M366.0,549.8v4.8" stroke="#c41e32" stroke-width="1.5"/>
<path d="M369.0,552.9h4.0M371.0,550.5v4.8" stroke="#c41e32" stroke-width="1.5"/>
<path d="M375.0,553.7h4.0M377.0,551.3v4.8" stroke="#c41e32" stroke-width="1.5"/>
<path d="M380.0,554.5h4.0M382.0,552.1v4.8" stroke="#c41e32" stroke-width="1.5"/>
<path d="M386.0,555.3h4.0M388.0,552.9v4.8" stroke="#c41e32" stroke-width="1.5"/>
<path d="M391.0,556.1h4.0M393.0,553.7v4.8" stroke="#c41e32" stroke-width="1.5"/>
<path d="M396.0,556.8h4.0M398.0,554.4v4.8" stroke="#c41e32" stroke-width="1.5"/>
<path d="M401.0,557.5h4.0M403.0,555.1v4.8" stroke="#c41e32" stroke-width="1.5"/>
<path d="M406.0,558.3h4.0M408.0,555.9v4.8" stroke="#c41e32" stroke-width="1.5"/>
<path d="M411.0,559.5h4.0M413.0,557.1v4.8" stroke="#c41e32" stroke-width="1.5"/>
<path d="M416.0,560.9h4.0M418.0,558.5v4.8" stroke="#c41e32" stroke-width="1.5"/>
<path d="M421.0,562.3h4.0M423.0,559.9v4.8" stroke="#c41e32" stroke-width="1.5"/>
<path d="M426.0,563.5h4.0M428.0,561.1v4.8" stroke="#c41e32" stroke-width="1.5"/>
<path d="M431.0,564.8h4.0M433.0,562.4v4.8" stroke="#c41e32" stroke-width="1.5"/>
<path d="M436.0,566.5h4.0M438.0,564.1v4.8" stroke="#c41e32" stroke-width="1.5"/>
<path d="M440.0,568.1h4.0M442.0,565.7v4.8" stroke="#c41e32" stroke-width="1.5"/>
<path d="M444.0,569.8h4.0M446.0,567.4v4.8" stroke="#c41e32" stroke-width="1.5"/>
<path d="M448.0,570.5h4.0M450.0,568.1v4.8" stroke="#c41e32" stroke-width="1.5"/>
<path d="M452.0,570.5h4.0M454.0,568.1v4.8" stroke="#c41e32" stroke-width="1.5"/>
<path d="M456.0,570.5h4.0M458.0,568.1v4.8" stroke="#c41e32" stroke-width="1.5"/>
<path d="M460.0,570.5h4.0M462.0,568.1v4.8" stroke="#c41e32" stroke-width="1.5"/>
<path d="M464.0,570.5h4.0M466.0,568.1v4.8" stroke="#c41e32" stroke-width="1.5"/>
<path d="M468.0,570.5h4.0M470.0,568.1v4.8" stroke="#c41e32" stroke-width="1.5"/>
<path d="M472.0,570.5h4.0M474.0,568.1v4.8" stroke="#c41e32" stroke-width="1.5"/>
<path d="M476.0,570.5h4.0M478.0,568.1v4.8" stroke="#c41e32" stroke-width="1.5"/>
<path d="M480.0,570.5h4.0M482.0,568.1v4.8" stroke="#c41e32" stroke-width="1.5"/>
<path d="M485.0,570.5h4.0M487.0,568.1v4.8" stroke="#c41e32" stroke-width="1.5"/>
<path d="M126.4,498.7h3.2M128.0,496.3v4.8" stroke="#30309a" stroke-width="1.5"/>
<path d="M129.4,500.9h3.2M131.0,498.5v4.8" stroke="#30309a" stroke-width="1.5"/>
<path d="M174.4,518.3h3.2M176.0,515.9v4.8" stroke="#30309a" stroke-width="1.5"/>
<path d="M182.4,520.0h3.2M184.0,517.6v4.8" stroke="#30309a" stroke-width="1.5"/>
<path d="M190.4,522.9h3.2M192.0,520.5v4.8" stroke="#30309a" stroke-width="1.5"/>
<path d="M198.4,525.8h3.2M200.0,523.4v4.8" stroke="#30309a" stroke-width="1.5"/>
<path d="M206.4,528.7h3.2M208.0,526.3v4.8" stroke="#30309a" stroke-width="1.5"/>
<path d="M212.4,530.9h3.2M214.0,528.5v4.8" stroke="#30309a" stroke-width="1.5"/>
<path d="M218.4,533.1h3.2M220.0,530.7v4.8" stroke="#30309a" stroke-width="1.5"/>
<path d="M234.4,537.0h3.2M236.0,534.6v4.8" stroke="#30309a" stroke-width="1.5"/>
<path d="M242.4,537.9h3.2M244.0,535.5v4.8" stroke="#30309a" stroke-width="1.5"/>
<path d="M250.4,538.9h3.2M252.0,536.5v4.8" stroke="#30309a" stroke-width="1.5"/>
<path d="M256.4,539.6h3.2M258.0,537.2v4.8" stroke="#30309a" stroke-width="1.5"/>
<path d="M262.4,540.4h3.2M264.0,538.0v4.8" stroke="#30309a" stroke-width="1.5"/>
<path d="M298.4,540.5h3.2M300.0,538.1v4.8" stroke="#30309a" stroke-width="1.5"/>
<path d="M304.4,540.5h3.2M306.0,538.1v4.8" stroke="#30309a" stroke-width="1.5"/>
<path d="M310.4,540.5h3.2M312.0,538.1v4.8" stroke="#30309a" stroke-width="1.5"/>
<path d="M316.4,540.5h3.2M318.0,538.1v4.8" stroke="#30309a" stroke-width="1.5"/>
<path d="M431.4,550.0h3.2M433.0,547.6v4.8" stroke="#30309a" stroke-width="1.5"/>
<path d="M453.0,562.5h3.2M454.6,560.1v4.8" stroke="#30309a" stroke-width="1.5"/>
<path d="M463.0,562.5h3.2M464.6,560.1v4.8" stroke="#30309a" stroke-width="1.5"/>
<path d="M472.2,562.5h3.2M473.8,560.1v4.8" stroke="#30309a" stroke-width="1.5"/>
<path d="M196.0,537.5h4.0M198.0,535.1v4.8" stroke="#3a7f76" stroke-width="1.3"/>
<path d="M203.0,537.5h4.0M205.0,535.1v4.8" stroke="#3a7f76" stroke-width="1.3"/>
<path d="M209.0,537.5h4.0M211.0,535.1v4.8" stroke="#3a7f76" stroke-width="1.3"/>
<path d="M268.5,544.0h4.0M270.5,541.6v4.8" stroke="#3a7f76" stroke-width="1.3"/>
<path d="M271.0,544.0h4.0M273.0,541.6v4.8" stroke="#3a7f76" stroke-width="1.3"/>
<path d="M293.0,554.0h4.0M295.0,551.6v4.8" stroke="#3a7f76" stroke-width="1.3"/>
<path d="M298.8,554.0h4.0M300.8,551.6v4.8" stroke="#3a7f76" stroke-width="1.3"/>
<path d="M400.0,568.6h4.0M402.0,566.2v4.8" stroke="#3a7f76" stroke-width="1.3"/>
</g>
<rect x="72" y="477" width="429.7" height="207.5" fill="none" stroke="#000" stroke-width="2"/>
<line x1="66.3" y1="641.1" x2="71" y2="641.1" stroke="#000" stroke-width="1.4"/>
<text x="62.00" y="644.10" font-size="10.0" text-anchor="end" font-weight="normal" fill="#000" >0.0</text>
<line x1="66.3" y1="609.6" x2="71" y2="609.6" stroke="#000" stroke-width="1.4"/>
<text x="62.00" y="612.60" font-size="10.0" text-anchor="end" font-weight="normal" fill="#000" >0.2</text>
<line x1="66.3" y1="578.1" x2="71" y2="578.1" stroke="#000" stroke-width="1.4"/>
<text x="62.00" y="581.10" font-size="10.0" text-anchor="end" font-weight="normal" fill="#000" >0.4</text>
<line x1="66.3" y1="546.6" x2="71" y2="546.6" stroke="#000" stroke-width="1.4"/>
<text x="62.00" y="549.60" font-size="10.0" text-anchor="end" font-weight="normal" fill="#000" >0.6</text>
<line x1="66.3" y1="515.1" x2="71" y2="515.1" stroke="#000" stroke-width="1.4"/>
<text x="62.00" y="518.10" font-size="10.0" text-anchor="end" font-weight="normal" fill="#000" >0.8</text>
<line x1="66.3" y1="483.6" x2="71" y2="483.6" stroke="#000" stroke-width="1.4"/>
<text x="62.00" y="486.60" font-size="10.0" text-anchor="end" font-weight="normal" fill="#000" >1.0</text>
<text transform="translate(40.8,580) rotate(-90) scale(0.92,1)" font-size="13.4" text-anchor="middle">Survival probability</text>
<text x="65.00" y="659.80" font-size="8.3" text-anchor="middle" font-weight="normal" fill="#000" >1</text>
<text x="93.50" y="659.80" font-size="8.1" text-anchor="middle" font-weight="normal" fill="#000" >119</text>
<text x="123.67" y="659.80" font-size="8.1" text-anchor="middle" font-weight="normal" fill="#000" >100</text>
<text x="153.83" y="659.80" font-size="8.1" text-anchor="middle" font-weight="normal" fill="#000" >00</text>
<text x="184.00" y="659.80" font-size="8.1" text-anchor="middle" font-weight="normal" fill="#000" >72</text>
<text x="214.17" y="659.80" font-size="8.1" text-anchor="middle" font-weight="normal" fill="#000" >57</text>
<text x="244.34" y="659.80" font-size="8.1" text-anchor="middle" font-weight="normal" fill="#000" >43</text>
<text x="274.50" y="659.80" font-size="8.1" text-anchor="middle" font-weight="normal" fill="#000" >22</text>
<text x="304.67" y="659.80" font-size="8.1" text-anchor="middle" font-weight="normal" fill="#000" >14</text>
<text x="334.84" y="659.80" font-size="8.1" text-anchor="middle" font-weight="normal" fill="#000" >9</text>
<text x="65.00" y="670.50" font-size="8.3" text-anchor="middle" font-weight="normal" fill="#000" >2</text>
<text x="93.50" y="670.50" font-size="8.1" text-anchor="middle" font-weight="normal" fill="#000" >1232</text>
<text x="123.67" y="670.50" font-size="8.1" text-anchor="middle" font-weight="normal" fill="#000" >1071</text>
<text x="153.83" y="670.50" font-size="8.1" text-anchor="middle" font-weight="normal" fill="#000" >951</text>
<text x="184.00" y="670.50" font-size="8.1" text-anchor="middle" font-weight="normal" fill="#000" >811</text>
<text x="214.17" y="670.50" font-size="8.1" text-anchor="middle" font-weight="normal" fill="#000" >657</text>
<text x="244.34" y="670.50" font-size="8.1" text-anchor="middle" font-weight="normal" fill="#000" >498</text>
<text x="274.50" y="670.50" font-size="8.1" text-anchor="middle" font-weight="normal" fill="#000" >335</text>
<text x="304.67" y="670.50" font-size="8.1" text-anchor="middle" font-weight="normal" fill="#000" >255</text>
<text x="334.84" y="670.50" font-size="8.1" text-anchor="middle" font-weight="normal" fill="#000" >187</text>
<text x="65.00" y="681.00" font-size="8.3" text-anchor="middle" font-weight="normal" fill="#000" >3</text>
<text x="93.50" y="681.00" font-size="8.1" text-anchor="middle" font-weight="normal" fill="#000" >33</text>
<text x="123.67" y="681.00" font-size="8.1" text-anchor="middle" font-weight="normal" fill="#000" >29</text>
<text x="153.83" y="681.00" font-size="8.1" text-anchor="middle" font-weight="normal" fill="#000" >25</text>
<text x="184.00" y="681.00" font-size="8.1" text-anchor="middle" font-weight="normal" fill="#000" >22</text>
<text x="214.17" y="681.00" font-size="8.1" text-anchor="middle" font-weight="normal" fill="#000" >15</text>
<text x="244.34" y="681.00" font-size="8.1" text-anchor="middle" font-weight="normal" fill="#000" >15</text>
<text x="274.50" y="681.00" font-size="8.1" text-anchor="middle" font-weight="normal" fill="#000" >10</text>
<text x="304.67" y="681.00" font-size="8.1" text-anchor="middle" font-weight="normal" fill="#000" >7</text>
<text x="334.84" y="681.00" font-size="8.1" text-anchor="middle" font-weight="normal" fill="#000" >7</text>
<line x1="93.5" y1="685" x2="93.5" y2="689.5" stroke="#000" stroke-width="1.4"/>
<text x="93.50" y="702.20" font-size="9.4" text-anchor="middle" font-weight="normal" fill="#000" >0</text>
<line x1="129.7" y1="685" x2="129.7" y2="689.5" stroke="#000" stroke-width="1.4"/>
<text x="129.70" y="702.20" font-size="9.4" text-anchor="middle" font-weight="normal" fill="#000" >12</text>
<line x1="165.9" y1="685" x2="165.9" y2="689.5" stroke="#000" stroke-width="1.4"/>
<text x="165.90" y="702.20" font-size="9.4" text-anchor="middle" font-weight="normal" fill="#000" >24</text>
<line x1="202.1" y1="685" x2="202.1" y2="689.5" stroke="#000" stroke-width="1.4"/>
<text x="202.10" y="702.20" font-size="9.4" text-anchor="middle" font-weight="normal" fill="#000" >36</text>
<line x1="238.3" y1="685" x2="238.3" y2="689.5" stroke="#000" stroke-width="1.4"/>
<text x="238.30" y="702.20" font-size="9.4" text-anchor="middle" font-weight="normal" fill="#000" >48</text>
<line x1="274.5" y1="685" x2="274.5" y2="689.5" stroke="#000" stroke-width="1.4"/>
<text x="274.50" y="702.20" font-size="9.4" text-anchor="middle" font-weight="normal" fill="#000" >60</text>
<line x1="310.7" y1="685" x2="310.7" y2="689.5" stroke="#000" stroke-width="1.4"/>
<text x="310.70" y="702.20" font-size="9.4" text-anchor="middle" font-weight="normal" fill="#000" >72</text>
<line x1="346.9" y1="685" x2="346.9" y2="689.5" stroke="#000" stroke-width="1.4"/>
<text x="346.90" y="702.20" font-size="9.4" text-anchor="middle" font-weight="normal" fill="#000" >84</text>
<line x1="383.1" y1="685" x2="383.1" y2="689.5" stroke="#000" stroke-width="1.4"/>
<text x="383.10" y="702.20" font-size="9.4" text-anchor="middle" font-weight="normal" fill="#000" >96</text>
<line x1="419.3" y1="685" x2="419.3" y2="689.5" stroke="#000" stroke-width="1.4"/>
<text x="419.30" y="702.20" font-size="9.4" text-anchor="middle" font-weight="normal" fill="#000" >108</text>
<line x1="455.5" y1="685" x2="455.5" y2="689.5" stroke="#000" stroke-width="1.4"/>
<text x="455.50" y="702.20" font-size="9.4" text-anchor="middle" font-weight="normal" fill="#000" >120</text>
<text transform="translate(286.6,721.3) scale(0.9,1)" font-size="13.3" text-anchor="middle">OS (months)</text>
<rect x="406.8" y="481.8" width="89.9" height="32" fill="#fff" stroke="#000" stroke-width="1.6"/>
<path d="M426.3,492.3h5.8M429.2,489.3v6" stroke="#000" stroke-width="1.7"/>
<text x="434.20" y="495.80" font-size="10" text-anchor="start" font-weight="normal" fill="#000" >Censored</text>
<text x="452.00" y="507.00" font-size="10" text-anchor="middle" font-weight="normal" fill="#000" >Logrank p=0.8640</text>
<rect x="336.2" y="605.3" width="160.5" height="43.7" fill="none" stroke="#000" stroke-width="1.6"/>
<line x1="340" y1="615.3" x2="375" y2="615.3" stroke="#33339a" stroke-width="1.4"/>
<line x1="340" y1="627.5" x2="375" y2="627.5" stroke="#d42a3c" stroke-width="1.6" stroke-dasharray="9,4.5"/>
<line x1="340" y1="639" x2="375" y2="639" stroke="#3f857c" stroke-width="1.4" stroke-dasharray="10,5.5,3,5.5"/>
<text x="380.5" y="618.50" font-size="10">1:BSA cap &gt;= 2.1 m<tspan font-size="6.5" dy="-4.6">2</tspan></text>
<text x="380.5" y="629.75" font-size="10">2:BSA non-cap &lt;2.1 m<tspan font-size="6.5" dy="-4.6">2</tspan></text>
<text x="380.5" y="641.00" font-size="10">3:BSA non-cap &gt;=2.1 m<tspan font-size="6.5" dy="-4.6">2</tspan></text>
<rect x="67.6" y="738.8" width="441" height="55.6" fill="none" stroke="#000" stroke-width="2"/>
<text x="213.50" y="751.80" font-size="10" text-anchor="middle" font-weight="normal" fill="#000" >No. of Subjects</text>
<text x="290.60" y="751.80" font-size="10" text-anchor="middle" font-weight="normal" fill="#000" >Event</text>
<text x="356.30" y="751.80" font-size="10" text-anchor="middle" font-weight="normal" fill="#000" >Censored</text>
<text x="448.20" y="751.80" font-size="10" text-anchor="middle" font-weight="normal" fill="#000" >Median Survival (95%CL)</text>
<text x="72.2" y="764.00" font-size="10">BSA cap &gt;= 2.1 m<tspan font-size="6.5" dy="-4.6">2</tspan></text>
<text x="213.80" y="764.00" font-size="10" text-anchor="middle" font-weight="normal" fill="#000" >119</text>
<text x="290.30" y="764.00" font-size="10" text-anchor="middle" font-weight="normal" fill="#000" >32.8 % (39)</text>
<text x="356.20" y="764.00" font-size="10" text-anchor="middle" font-weight="normal" fill="#000" >67.2 % (80)</text>
<text x="447.50" y="764.00" font-size="10" text-anchor="middle" font-weight="normal" fill="#000" >113.1 (75.9 ; NA)</text>
<text x="72.2" y="776.00" font-size="10">BSA non-cap &lt;2.1 m<tspan font-size="6.5" dy="-4.6">2</tspan></text>
<text x="213.80" y="776.00" font-size="10" text-anchor="middle" font-weight="normal" fill="#000" >1232</text>
<text x="290.30" y="776.00" font-size="10" text-anchor="middle" font-weight="normal" fill="#000" >36.7 % (452)</text>
<text x="356.20" y="776.00" font-size="10" text-anchor="middle" font-weight="normal" fill="#000" >63.3 % (780)</text>
<text x="447.50" y="776.00" font-size="10" text-anchor="middle" font-weight="normal" fill="#000" >106.5 (93.1 ; 117.9)</text>
<text x="72.2" y="787.60" font-size="10">BSA non-cap &gt;=2.1 m<tspan font-size="6.5" dy="-4.6">2</tspan></text>
<text x="213.80" y="787.60" font-size="10" text-anchor="middle" font-weight="normal" fill="#000" >33</text>
<text x="290.30" y="787.60" font-size="10" text-anchor="middle" font-weight="normal" fill="#000" >42.4 % (14)</text>
<text x="356.20" y="787.60" font-size="10" text-anchor="middle" font-weight="normal" fill="#000" >57.6 % (19)</text>
<text x="447.50" y="787.60" font-size="10" text-anchor="middle" font-weight="normal" fill="#000" >93.1 (32.6 ; NA)</text>
<text x="90.6" y="813" font-size="10">Reference is patients with Equal Theoretical and observed BSA and with BSA cap of 2 m<tspan font-size="6.5" dy="-4.6">2</tspan></text>
<clipPath id="clipB"><rect x="73" y="478" width="427.7" height="205.5"/></clipPath>
</svg>
</body></html>
